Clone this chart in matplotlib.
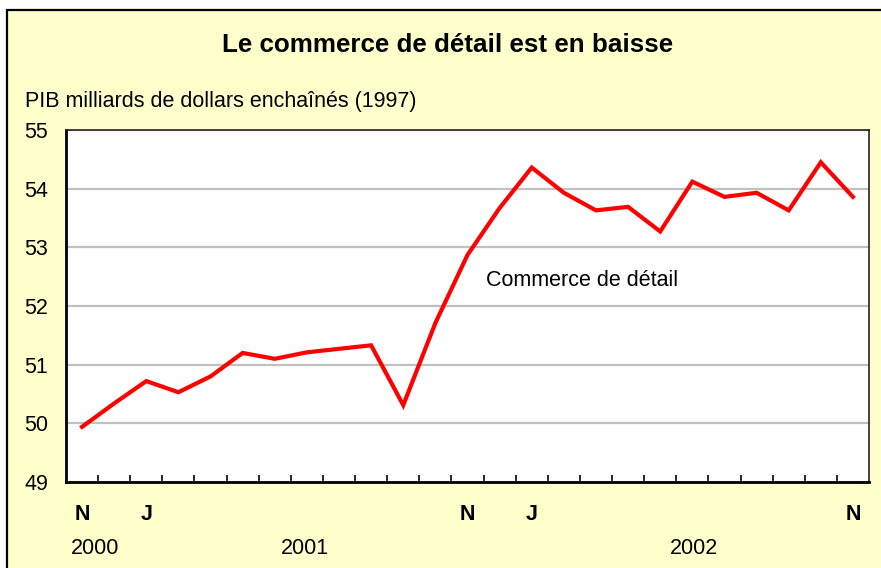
import matplotlib
matplotlib.use("Agg")
import matplotlib.pyplot as plt
import matplotlib.patches as mpatches
import numpy as np

plt.rcParams["font.family"] = ["Liberation Sans", "DejaVu Sans"]

# ── Data: monthly values, Nov 2000 .. Nov 2002 ───────────────────
values = [49.94, 50.34, 50.72, 50.53, 50.80, 51.20, 51.10, 51.21, 51.27,
          51.33, 50.31, 51.71, 52.87, 53.67, 54.36, 53.93, 53.63, 53.69,
          53.27, 54.12, 53.86, 53.93, 53.63, 54.45, 53.86]
month_pos    = [0, 2, 12, 14, 24]
month_labels = ["N", "J", "N", "J", "N"]
years        = ["2000", "2001", "2002"]
year_pos     = [0.4, 6.95, 19.05]
yticks       = [49, 50, 51, 52, 53, 54, 55]

title  = "Le commerce de détail est en baisse"
ylabel = "PIB milliards de dollars enchaînés (1997)"
series = "Commerce de détail"

W, H = 881, 568
fig = plt.figure(figsize=(W / 100, H / 100), dpi=100, facecolor="white")

# yellow panel with black frame (runs off right / bottom edges)
frame = mpatches.Rectangle((6.5 / W, -0.1), 1.0, 1.1 - 10.5 / H,
                           transform=fig.transFigure, facecolor="#FFFFCC",
                           edgecolor="black", lw=1.6, zorder=-5)
fig.patches.append(frame)

ax = fig.add_axes([66 / W, (H - 482) / H, 803 / W, 352 / H])
ax.set_zorder(2)
ax.set_facecolor("white")

x = np.arange(len(values))
ax.plot(x, values, color="#FF0000", lw=3.0, solid_joinstyle="miter", zorder=3)

ax.set_xlim(-0.5, len(values) - 0.5)
ax.set_ylim(49, 55)
ax.set_yticks(yticks)
ax.set_yticklabels([str(v) for v in yticks], fontsize=15.5)
ax.tick_params(axis="y", length=0, pad=13)
ax.yaxis.grid(True, color="#C0C0C0", lw=1.6)
ax.set_axisbelow(True)

ax.set_xticks(month_pos)
ax.set_xticklabels(month_labels, fontsize=15.5, fontweight="bold")
ax.tick_params(axis="x", which="major", length=0, pad=16)
ax.set_xticks(np.arange(0.5, len(values) - 1, 1.0), minor=True)
ax.tick_params(axis="x", which="minor", direction="in", length=5, width=1.2)

for s in ["left", "bottom"]:
    ax.spines[s].set_linewidth(2.0)
for s in ["top", "right"]:
    ax.spines[s].set_linewidth(1.2)
    ax.spines[s].set_color("#222222")

ax.text(12.59, 52.44, series, fontsize=15.5, ha="left", va="center")

for yr, p in zip(years, year_pos):
    ax.text(p, 47.86, yr, fontsize=15.5, ha="center", va="center", clip_on=False)

fig.text(448 / W, 1 - 45 / H, title, fontsize=18.7, fontweight="bold",
         ha="center", va="center")
fig.text(25 / W, 1 - 101 / H, ylabel, fontsize=15.5, ha="left", va="center")

fig.savefig("out.png", dpi=100, facecolor=fig.get_facecolor())
